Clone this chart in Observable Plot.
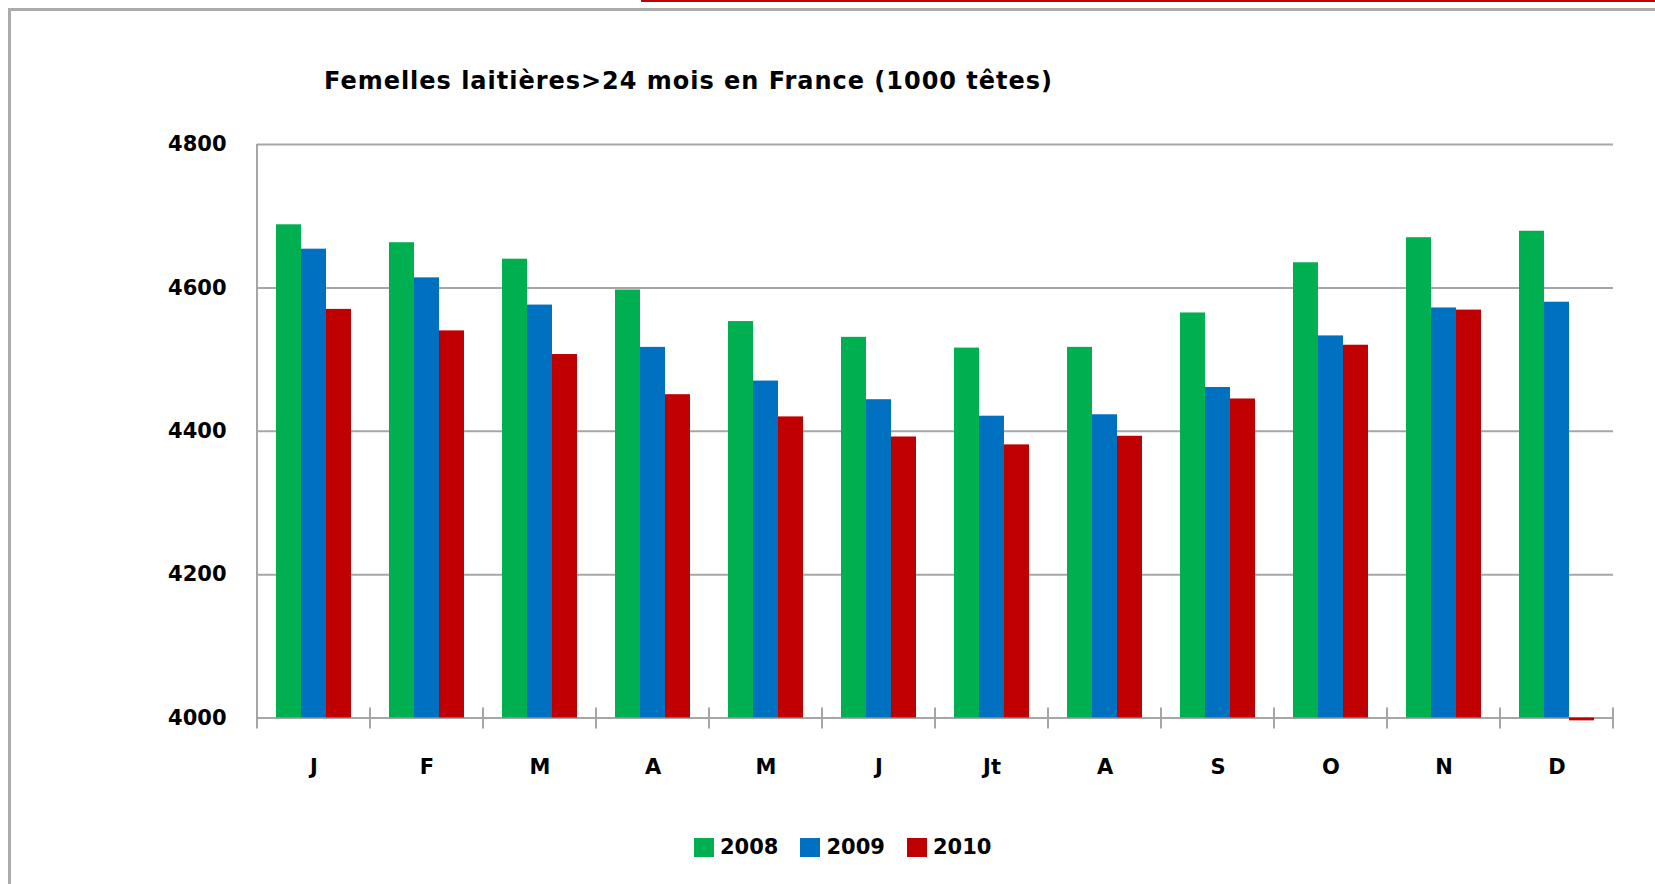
<!DOCTYPE html>
<html>
<head>
<meta charset="utf-8">
<script src="https://cdn.jsdelivr.net/npm/d3@7"></script>
<script src="https://cdn.jsdelivr.net/npm/@observablehq/plot@0.6"></script>
<style>
  html, body { margin: 0; padding: 0; background: #fff; }
  #page { position: relative; width: 1655px; height: 884px; overflow: hidden; font-family: "DejaVu Sans", sans-serif; color: #000; }
  .deco { position: absolute; }
  #title { box-sizing: border-box; height: 120px; padding-top: 69px; padding-left: 324px; font-size: 24px; line-height: 1; font-weight: bold; white-space: nowrap; }
  #chart svg { display: block; }
  #legend { box-sizing: border-box; height: 84px; padding-top: 36px; padding-left: 694px; }
  #legend .row { display: flex; align-items: center; height: 22px; }
  #legend .sw { width: 20px; height: 19px; margin-right: 6px; }
  #legend .lab { font-size: 21px; font-weight: bold; margin-right: 22px; line-height: 1; }
</style>
</head>
<body>
<div id="page">
  <div class="deco" style="top:0;left:641px;width:1014px;height:2px;background:#c00000"></div>
  <div class="deco" style="top:8px;left:8px;width:1647px;height:3px;background:#ababab"></div>
  <div class="deco" style="top:8px;left:8px;width:3px;height:876px;background:#ababab"></div>
  <div id="title"><span id="titleText">Femelles laitières&gt;24 mois en France (1000 têtes)</span></div>
  <div id="chart"></div>
  <div id="legend"><div class="row" id="legendRow"></div></div>
</div>
<script>
// ---- data ----
const months = ["J","F","M","A","M","J","Jt","A","S","O","N","D"];
const years = ["2008","2009","2010"];
const values2008 = [4688,4663,4640,4597,4553,4531,4516,4517,4565,4635,4670,4679];
const values2009 = [4654,4614,4576,4517,4470,4444,4421,4423,4461,4533,4572,4580];
const values2010 = [4570,4540,4507,4451,4420,4392,4381,4393,4445,4520,4569,3996];
const yTicks = [4000,4200,4400,4600,4800];
const colors = ["#00B050","#0070C0","#C00000"];

const series = [values2008, values2009, values2010];
const rows = [];
months.forEach((m, i) => {
  years.forEach((yr, j) => rows.push({month: i, year: yr, value: series[j][i]}));
});

const gridColor = "#a6a6a6";
const chart = Plot.plot({
  width: 1655,
  height: 680,
  marginTop: 24,
  marginBottom: 82.5,
  marginLeft: 253,
  marginRight: 39,
  style: {fontFamily: '"DejaVu Sans", sans-serif', background: "transparent", overflow: "visible", color: "#000"},
  fx: {domain: d3.range(months.length), padding: 0},
  x: {domain: years, paddingInner: 0, paddingOuter: 0.75, axis: null},
  y: {domain: [4000, 4800]},
  color: {domain: years, range: colors},
  marks: [
    Plot.gridY(yTicks, {stroke: gridColor, strokeOpacity: 1, strokeWidth: 2}),
    Plot.barY(rows, {fx: "month", x: "year", y1: 4000, y2: "value", fill: "year"}),
    Plot.axisY(yTicks, {tickSize: 0, tickPadding: 31, fontSize: 21, fontWeight: "bold", label: null, tickFormat: d => String(d)}),
    Plot.axisFx({anchor: "bottom", tickSize: 0, tickPadding: 41, fontSize: 21, fontWeight: "bold", tickFormat: i => months[i], label: null})
  ]
});
document.getElementById("chart").appendChild(chart);

// axis line and category boundary ticks, positioned through Plot's scales
(function () {
  const svg = d3.select(chart);
  const fxs = chart.scale("fx");
  const ys = chart.scale("y");
  const y0 = ys.apply(4000), yTop = ys.apply(4800);
  const g = svg.append("g").attr("stroke", gridColor).attr("stroke-width", 2);
  const left = fxs.apply(0);
  g.append("line").attr("x1", left).attr("x2", left).attr("y1", yTop).attr("y2", y0 + 11);
  const bounds = d3.range(1, months.length).map(i => fxs.apply(i));
  bounds.push(fxs.apply(months.length - 1) + fxs.bandwidth);
  bounds.forEach(x => {
    g.append("line").attr("x1", x).attr("x2", x).attr("y1", y0 - 10).attr("y2", y0 + 11);
  });
})();

// legend
const row = document.getElementById("legendRow");
years.forEach((yr, j) => {
  const sw = document.createElement("span");
  sw.className = "sw"; sw.style.background = colors[j];
  const lab = document.createElement("span");
  lab.className = "lab"; lab.textContent = yr;
  row.appendChild(sw); row.appendChild(lab);
});

// fit title width to reference
const t = document.getElementById("titleText");
const w = t.getBoundingClientRect().width;
const n = t.textContent.length;
t.style.letterSpacing = ((728 - w) / (n - 1)) + "px";
</script>
</body>
</html>
